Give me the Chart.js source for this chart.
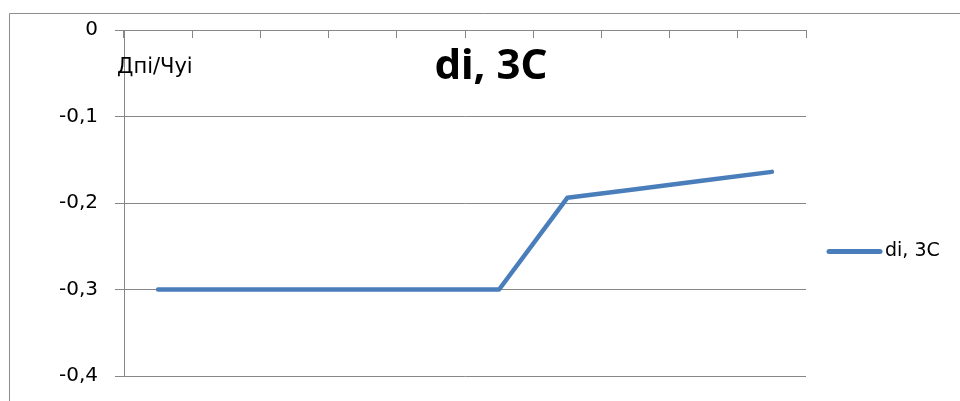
<!DOCTYPE html>
<html>
<head>
<meta charset="utf-8">
<script src="https://cdn.jsdelivr.net/npm/chart.js@4/dist/chart.umd.min.js"></script>
<style>
  html, body { margin: 0; padding: 0; background: #ffffff; }
  #wrap { position: relative; width: 960px; height: 401px; }
</style>
</head>
<body>
<div id="wrap"><canvas id="c" width="960" height="401"></canvas></div>
<script>
const chartTitle = 'di, 3C';
const yAxisLabel = 'Дпі/Чуі';
const seriesName = 'di, 3C';
const categories = ['1', '2', '3', '4', '5', '6', '7', '8', '9', '10'];
const seriesValues = [-0.3, -0.3, -0.3, -0.3, -0.3, -0.3, -0.194, -0.184, -0.174, -0.164];
const yTickValues = [0, -0.1, -0.2, -0.3, -0.4];

const LINE_COLOR = '#4A7EBB';
const GRID_COLOR = '#878787';

const decorPlugin = {
  id: 'decor',
  beforeDraw(chart) {
    const ctx = chart.ctx;
    ctx.save();
    ctx.strokeStyle = '#8c8c8c';
    ctx.lineWidth = 1;
    ctx.beginPath();
    ctx.moveTo(9.5, 401);
    ctx.lineTo(9.5, 13.5);
    ctx.lineTo(960, 13.5);
    ctx.stroke();
    ctx.restore();
  },
  afterDraw(chart) {
    const ctx = chart.ctx;
    ctx.save();
    ctx.fillStyle = '#000000';
    ctx.font = 'bold 42px "Noto Sans"';
    ctx.textAlign = 'center';
    ctx.textBaseline = 'alphabetic';
    ctx.fillText(chartTitle, 491, 79);
    ctx.font = '21px "DejaVu Sans"';
    ctx.textAlign = 'left';
    ctx.fillText(yAxisLabel, 117, 73);
    const ds = chart.data.datasets[0];
    ctx.strokeStyle = ds.borderColor;
    ctx.lineWidth = 5;
    ctx.lineCap = 'round';
    ctx.beginPath();
    ctx.moveTo(829, 251.5);
    ctx.lineTo(880, 251.5);
    ctx.stroke();
    ctx.font = '19px "DejaVu Sans"';
    ctx.textBaseline = 'middle';
    ctx.fillText(ds.label, 885, 251);
    ctx.restore();
  }
};

new Chart(document.getElementById('c'), {
  type: 'line',
  data: {
    labels: categories,
    datasets: [{
      label: seriesName,
      data: seriesValues,
      borderColor: LINE_COLOR,
      backgroundColor: LINE_COLOR,
      borderWidth: 4.5,
      borderCapStyle: 'round',
      borderJoinStyle: 'round',
      pointRadius: 0,
      pointHoverRadius: 0,
      tension: 0,
      fill: false
    }]
  },
  options: {
    responsive: false,
    animation: false,
    devicePixelRatio: 1,
    layout: { padding: { left: 0, top: 0, right: 154, bottom: 25 } },
    plugins: {
      legend: { display: false },
      title: { display: false },
      tooltip: { enabled: false }
    },
    scales: {
      x: {
        type: 'category',
        position: 'top',
        offset: true,
        grid: {
          offset: true,
          drawOnChartArea: false,
          drawTicks: true,
          tickLength: -8,
          color: GRID_COLOR,
          lineWidth: 1
        },
        border: { display: true, color: GRID_COLOR, width: 1 },
        ticks: { display: false },
        afterFit(scale) { scale.height = 30; scale.paddingLeft = 0; scale.paddingRight = 0; }
      },
      y: {
        type: 'linear',
        position: 'left',
        min: -0.4,
        max: 0,
        afterBuildTicks(scale) {
          scale.ticks = yTickValues.map(v => ({ value: v }));
        },
        grid: {
          color: GRID_COLOR,
          lineWidth: 1,
          drawTicks: true,
          tickLength: 9
        },
        border: { display: true, color: GRID_COLOR, width: 1 },
        ticks: {
          padding: 17,
          color: '#000000',
          font: { family: '"DejaVu Sans"', size: 20 },
          callback: v => (v === 0 ? '0' : String(Math.round(v * 10) / 10).replace('.', ','))
        },
        afterFit(scale) { scale.width = 124; scale.paddingTop = 0; scale.paddingBottom = 0; }
      }
    }
  },
  plugins: [decorPlugin]
});
</script>
</body>
</html>
